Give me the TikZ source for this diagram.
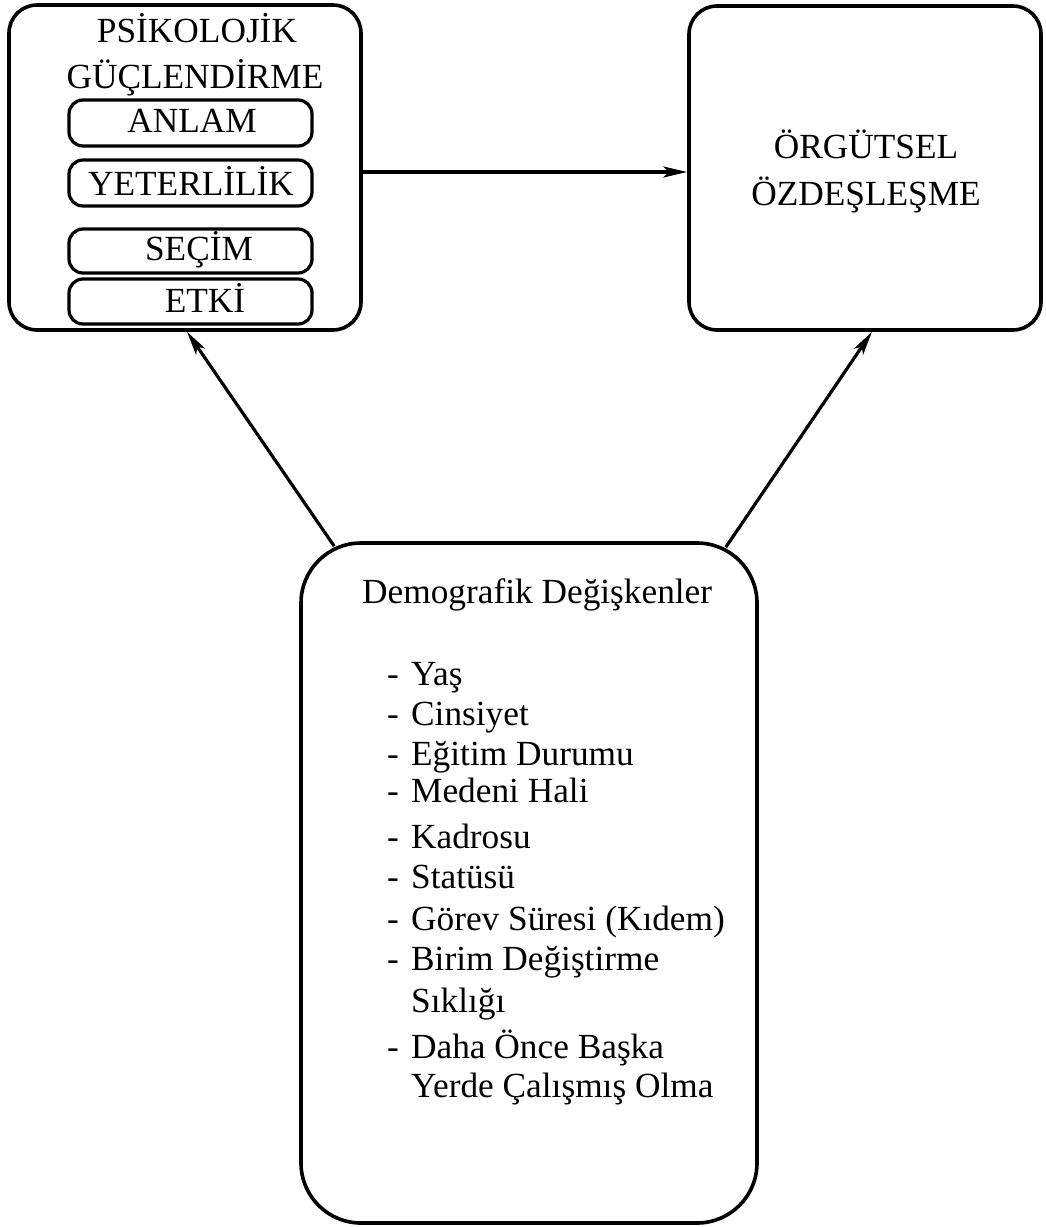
\documentclass[tikz,border=0pt]{standalone}
\usepackage{fontspec}
\setmainfont{Liberation Serif}
\usetikzlibrary{arrows.meta,calc}
\newcommand\dashmark{\makebox[24pt][l]{-}}
\begin{document}
\begin{tikzpicture}[x=1pt,y=-1pt,
  box/.style={draw,line width=3.6pt,rounded corners=28pt,inner sep=0pt},
  sub/.style={draw,line width=3.2pt,rounded corners=14pt,minimum width=243pt,inner sep=0pt},
  txt/.style={inner sep=0pt,anchor=base,font=\fontsize{35.3}{40}\selectfont},
  ltxt/.style={txt,anchor=base west},
  arr/.style={line width=3.2pt,-{Stealth[length=24pt,width=11pt,inset=6pt]}}]
\useasboundingbox[fill=white] (0,0) rectangle (1045,1227);

% boxes
\node[box,minimum width=352pt,minimum height=325pt] (lbox) at (185,167.5) {};
\node[box,minimum width=352pt,minimum height=324pt] (rbox) at (865,168) {};
\node[box,rounded corners=60pt,minimum width=456pt,minimum height=680pt] (bbox) at (529,883) {};

% sub boxes
\node[sub,minimum height=46pt] (s1) at (190.5,123) {};
\node[sub,minimum height=46pt] (s2) at (190.5,183) {};
\node[sub,minimum height=44pt] (s3) at (190.5,251) {};
\node[sub,minimum height=45pt] (s4) at (190.5,301.5) {};

% texts left
\node[txt] (t1) at (197,42) {PSİKOLOJİK};
\node[txt] (t2) at (195,88) {GÜÇLENDİRME};
\node[txt] (a1) at (192,132) {ANLAM};
\node[txt] (a2) at (191,195) {YETERLİLİK};
\node[txt] (a3) at (199,260) {SEÇİM};
\node[txt] (a4) at (205,312) {ETKİ};

% texts right
\node[txt] (r1) at (866,158) {ÖRGÜTSEL};
\node[txt] (r2) at (866,205) {ÖZDEŞLEŞME};

% texts bottom
\node[ltxt] (d0) at (362,603) {Demografik Değişkenler};
\node[ltxt] (d1) at (387,685) {\dashmark Yaş};
\node[ltxt] (d2) at (387,725) {\dashmark Cinsiyet};
\node[ltxt] (d3) at (387,765) {\dashmark Eğitim Durumu};
\node[ltxt] (d4) at (387,802) {\dashmark Medeni Hali};
\node[ltxt] (d5) at (387,848) {\dashmark Kadrosu};
\node[ltxt] (d6) at (387,888) {\dashmark Statüsü};
\node[ltxt] (d7) at (387,930) {\dashmark Görev Süresi (Kıdem)};
\node[ltxt] (d8) at (387,970) {\dashmark Birim Değiştirme};
\node[ltxt] (d9) at (411,1012) {Sıklığı};
\node[ltxt] (d10) at (387,1058) {\dashmark Daha Önce Başka};
\node[ltxt] (d11) at (411,1097) {Yerde Çalışmış Olma};

% connectors
\draw[arr] ([yshift=-4.5pt]lbox.east) -- ([yshift=-4pt]rbox.west);
\coordinate (bl) at ($(bbox.north west)+(35,5)$);
\coordinate (br) at ($(bbox.north east)+(-33,6)$);
\draw[arr] (bl) -- ([xshift=2pt]lbox.south);
\draw[arr] (br) -- ([xshift=7pt]rbox.south);
\end{tikzpicture}
\end{document}
